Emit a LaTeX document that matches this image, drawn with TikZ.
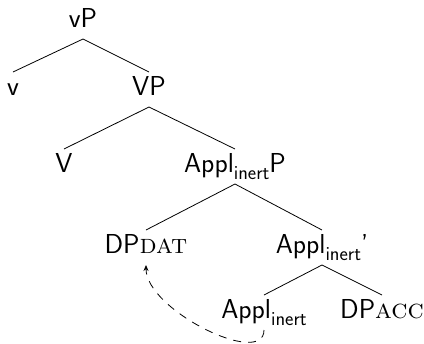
\documentclass[tikz,border=0pt]{standalone}
\usetikzlibrary{arrows.meta}
\newcommand{\sub}[1]{\raisebox{-0.27em}{\fontsize{20}{20}\selectfont #1}}
\newcommand{\scase}[1]{{\rmfamily\scshape #1}}
\begin{document}
\begin{tikzpicture}[x=1bp,y=-1bp,
  lbl/.style={anchor=base,inner sep=0pt,outer ysep=4bp,text height=19bp,text depth=8bp,
    font=\sffamily\fontsize{27.5}{32}\selectfont},
  edge/.style={line width=0.8bp},
  movement/.style={line width=0.8bp,dash pattern=on 8bp off 7bp,-{Stealth[length=6bp,width=5bp]}}]
\useasboundingbox (0,0) rectangle (424,344);
% tree labels
\node[lbl] (vP)    at (83,27)  {vP};
\node[lbl] (v)     at (13,95)  {v};
\node[lbl] (VP)    at (149,95) {VP};
\node[lbl] (V)     at (64,172) {V};
\node[lbl] (ApplP) at (235,172) {Appl\sub{inert}P};
\node[lbl] (DPdat) at (146,253) {DP\scase{dat}};
\node[lbl] (Applb) at (322,253) {Appl\sub{inert}'};
\node[lbl] (Appl)  at (264,318) {Appl\sub{inert}};
\node[lbl] (DPacc) at (382,318) {DP\scase{acc}};
% branches
\draw[edge] (v.north) -- (vP.south) -- (VP.north);
\draw[edge] (V.north) -- (VP.south) -- (ApplP.north);
\draw[edge] (DPdat.north) -- (ApplP.south) -- (Applb.north);
\draw[edge] (Appl.north) -- (Applb.south) -- (DPacc.north);
% movement of the dative
\draw[movement] (Appl.south) .. controls +(0,38) and +(0,45) .. (DPdat.south);
\end{tikzpicture}
\end{document}
